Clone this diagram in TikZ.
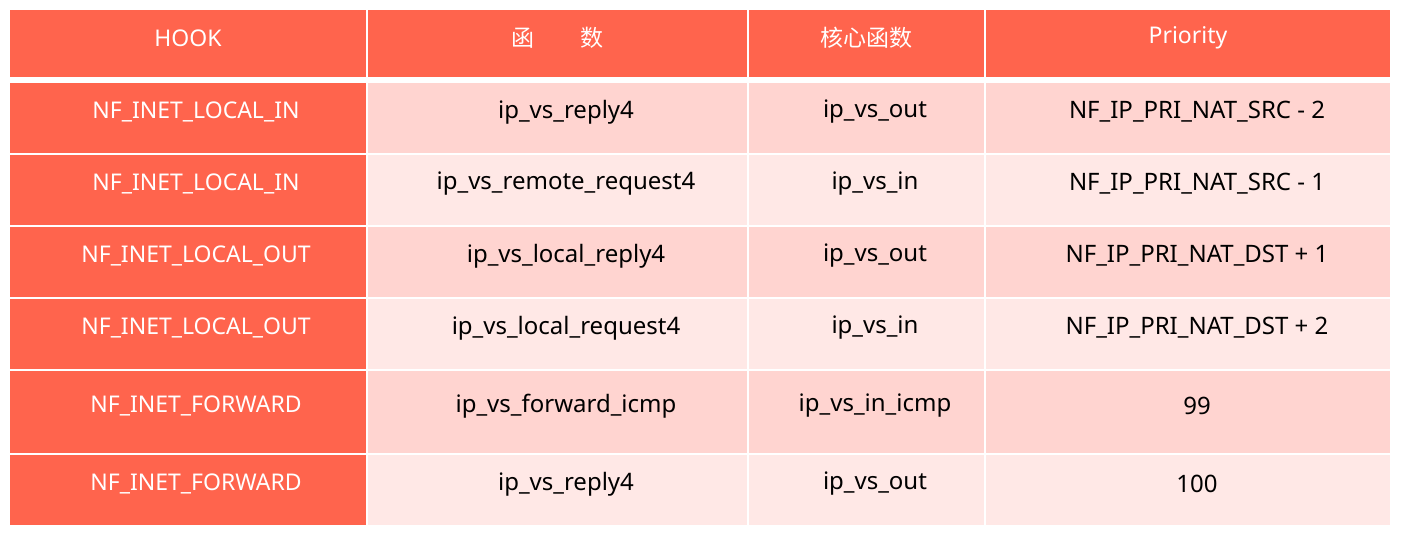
\documentclass[tikz,border=0pt]{standalone}
\usepackage{fontspec}
\setmainfont{Noto Sans}
\newfontfamily\cjk{Noto Sans CJK SC}
\definecolor{hdr}{HTML}{FF644D}
\definecolor{rowA}{HTML}{FFD4D0}
\definecolor{rowB}{HTML}{FFE8E6}
\begin{document}
\begin{tikzpicture}[x=1pt,y=-1pt,
  cellbox/.style={inner sep=0pt,outer sep=0pt},
  txt/.style={font=\fontsize{24}{28}\selectfont,text=black},
  htxt/.style={font=\fontsize{23}{28}\selectfont,text=white}]
\useasboundingbox[fill=white] (0,0) rectangle (1401,540);
\def\xa{10}\def\xb{366}\def\xc{368}\def\xd{747}\def\xe{749}\def\xf{984}\def\xg{986}\def\xh{1390}
% header
\foreach \l/\r in {10/366,368/747,749/984,986/1390}
  \fill[hdr] (\l,10) rectangle (\r,77);
\node[htxt] (h1) at (188,38) {HOOK};
\node[htxt] (h2) at (557,38) {\cjk 函　　数};
\node[htxt] (h3) at (866,38) {\cjk 核心函数};
\node[htxt] (h4) at (1188,38) {Priority};
% rows: top/bottom/colour/c1/c2/c3/c4
\foreach \t/\b/\c/\ha/\hb/\hc/\hd [count=\i] in {
  83/153/rowA/NF\_INET\_LOCAL\_IN/ip\_vs\_reply4/ip\_vs\_out/NF\_IP\_PRI\_NAT\_SRC - 2,
  155/225/rowB/NF\_INET\_LOCAL\_IN/ip\_vs\_remote\_request4/ip\_vs\_in/NF\_IP\_PRI\_NAT\_SRC - 1,
  227/297/rowA/NF\_INET\_LOCAL\_OUT/ip\_vs\_local\_reply4/ip\_vs\_out/NF\_IP\_PRI\_NAT\_DST + 1,
  299/369/rowB/NF\_INET\_LOCAL\_OUT/ip\_vs\_local\_request4/ip\_vs\_in/NF\_IP\_PRI\_NAT\_DST + 2,
  371/453/rowA/NF\_INET\_FORWARD/ip\_vs\_forward\_icmp/ip\_vs\_in\_icmp/99,
  455/525/rowB/NF\_INET\_FORWARD/ip\_vs\_reply4/ip\_vs\_out/100}{
  \fill[hdr] (10,\t) rectangle (366,\b);
  \fill[\c] (368,\t) rectangle (747,\b);
  \fill[\c] (749,\t) rectangle (984,\b);
  \fill[\c] (986,\t) rectangle (1390,\b);
  \pgfmathsetmacro\ym{(\t+\b)/2-6}
  \node[htxt] (r\i a) at (196,\ym) {\ha};
  \node[txt] (r\i b) at (566,\ym) {\hb};
  \node[txt] (r\i c) at (875,\ym) {\hc};
  \node[txt] (r\i d) at (1197,\ym) {\hd};
}
\end{tikzpicture}
\end{document}
